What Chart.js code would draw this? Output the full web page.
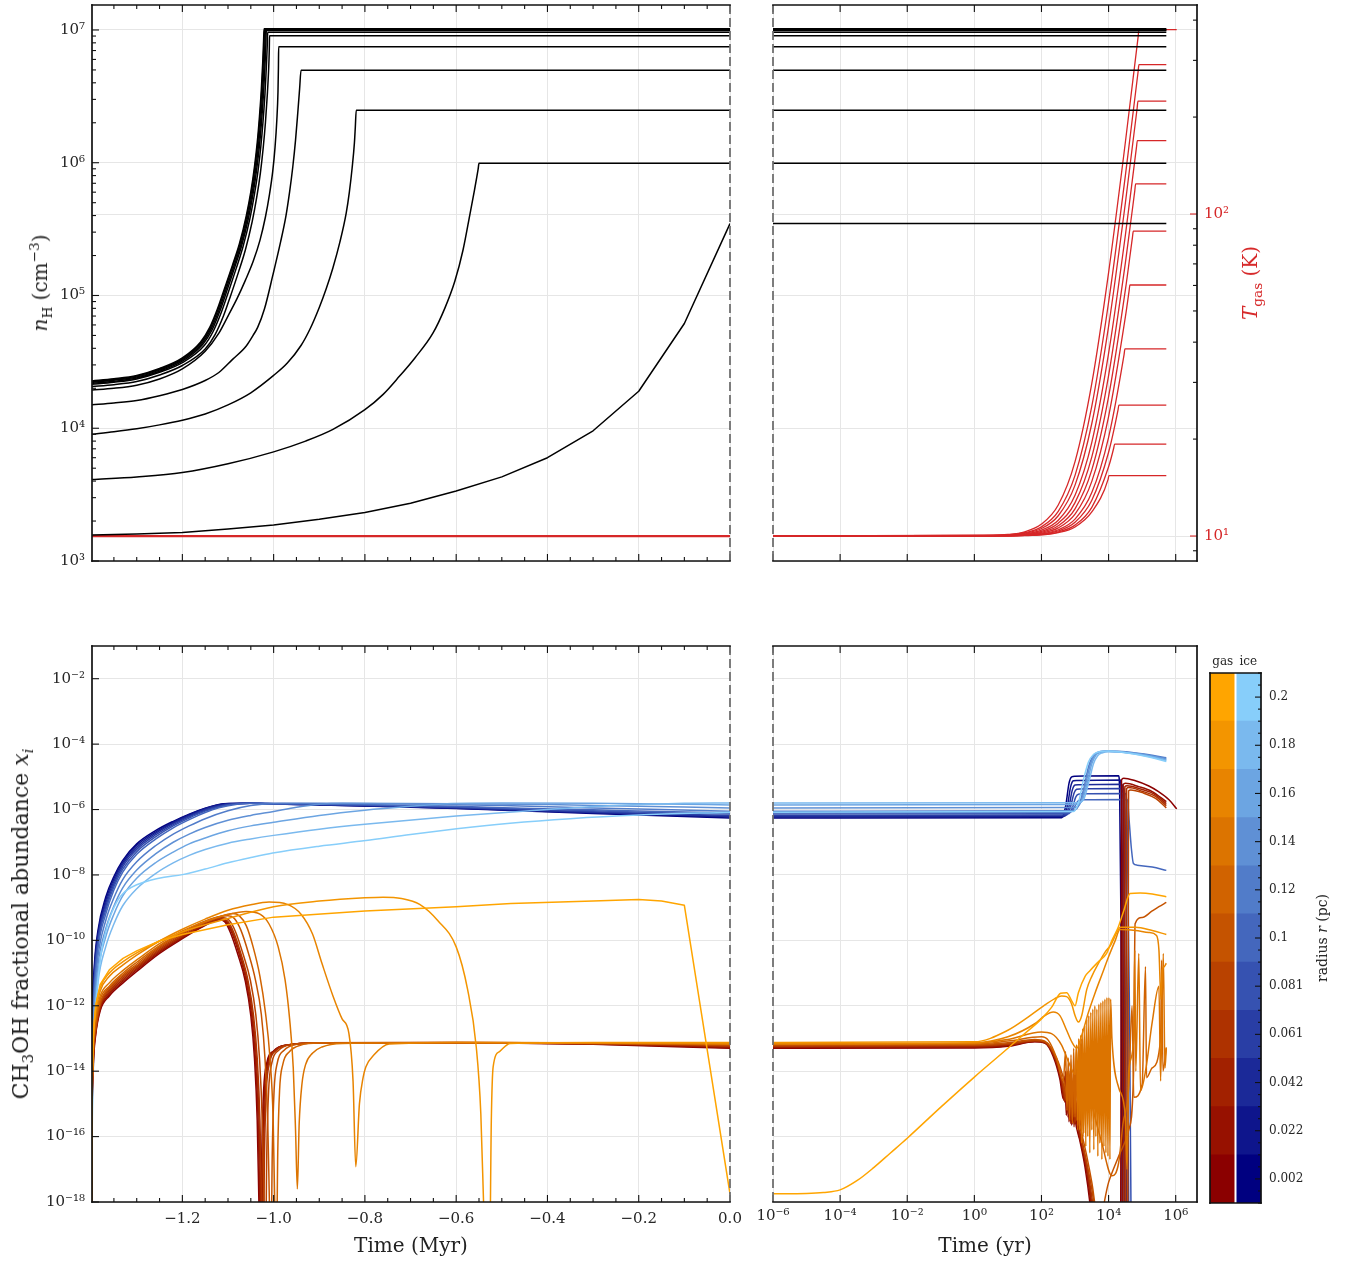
<!DOCTYPE html>
<html>
<head>
<meta charset="utf-8">
<script src="https://cdn.jsdelivr.net/npm/chart.js@4.4.1/dist/chart.umd.min.js"></script>
<style>
  body { margin: 0; background: #fff; }
  #fig { position: relative; width: 1347px; height: 1261px; font-family: "DejaVu Serif", serif; color: #222; overflow: hidden; }
  canvas { position: absolute; }
  .lbl { position: absolute; white-space: nowrap; font-size: 20px; line-height: 1; }
  .rot { transform: translate(-50%, -50%) rotate(-90deg); }
  .ctr { transform: translate(-50%, -50%); }
  .lbl sub, .lbl sup { font-size: 68%; line-height: 0; }
</style>
</head>
<body>
<div id="fig">
  <canvas id="tl" width="745" height="580" style="left:0;top:0"></canvas>
  <canvas id="tr" width="587" height="580" style="left:760px;top:0"></canvas>
  <canvas id="bl" width="745" height="661" style="left:0;top:600px"></canvas>
  <canvas id="br" width="465" height="661" style="left:735px;top:600px"></canvas>
  <canvas id="cb" width="152" height="621" style="left:1195px;top:640px"></canvas>

  <div class="lbl rot" style="left:40px;top:283px"><i>n</i><sub>H</sub> (cm<sup>−3</sup>)</div>
  <div class="lbl rot" style="left:1250px;top:283px;color:#d62728"><i>T</i><sub>gas</sub> (K)</div>
  <div class="lbl rot" style="left:21px;top:924px;font-size:22px">CH<sub>3</sub>OH fractional abundance <i>x<sub>i</sub></i></div>
  <div class="lbl ctr" style="left:411px;top:1245px">Time (Myr)</div>
  <div class="lbl ctr" style="left:985px;top:1245px">Time (yr)</div>
  <div class="lbl rot" style="left:1322px;top:938px;font-size:14px">radius <i>r</i> (pc)</div>
</div>

<script>
// ---------------------------------------------------------------
// Radial shells and their colours (gas = orange ramp, ice = blue ramp)
// ---------------------------------------------------------------
const radii = [0.002, 0.022, 0.042, 0.061, 0.081, 0.1, 0.12, 0.14, 0.16, 0.18, 0.2];
const gasColors = ['#8b0000','#971100','#a22100','#ae3200','#b94200','#c55300','#d16300','#dc7400','#e88400','#f39500','#ffa500'];
const iceColors = ['#000080','#0e158c','#1b2998','#293ea5','#3652b1','#4467bd','#517cc9','#5f90d5','#6ca5e2','#7ab9ee','#87cefa'];
const tempColor = '#d62728';

// Tick positions
const myrTicks = [-1.2, -1.0, -0.8, -0.6, -0.4, -0.2, 0.0];
const yrTicks = [1e-6, 1e-4, 1e-2, 1, 1e2, 1e4, 1e6];
const densityTicks = [1e3, 1e4, 1e5, 1e6, 1e7];
const tempTicks = [10, 100];
const abundanceTicks = [1e-18, 1e-16, 1e-14, 1e-12, 1e-10, 1e-8, 1e-6, 1e-4, 1e-2];

// ---------------------------------------------------------------
// Collapse phase: density n_H (cm^-3) vs time (Myr), one row per shell
// ---------------------------------------------------------------
const densityCollapse = [
  [[-1.4,2.27e4],[-1.35,2.36e4],[-1.3,2.5e4],[-1.25,2.82e4],[-1.2,3.39e4],[-1.16,4.47e4],[-1.14,5.75e4],[-1.123,7.94e4],[-1.108,1.12e5],[-1.09,1.7e5],[-1.075,2.45e5],[-1.06,3.98e5],[-1.05,6.03e5],[-1.042,9.33e5],[-1.036,1.41e6],[-1.031,2.24e6],[-1.027,3.55e6],[-1.024,5.62e6],[-1.022,8.3e6],[-1.021,1.02e7],[0,1.02e7]],
  [[-1.4,2.24e4],[-1.35,2.33e4],[-1.3,2.47e4],[-1.25,2.78e4],[-1.2,3.33e4],[-1.159,4.4e4],[-1.139,5.65e4],[-1.122,7.8e4],[-1.107,1.1e5],[-1.089,1.68e5],[-1.074,2.42e5],[-1.059,3.93e5],[-1.049,5.95e5],[-1.041,9.2e5],[-1.035,1.39e6],[-1.03,2.2e6],[-1.026,3.5e6],[-1.023,5.5e6],[-1.021,8.2e6],[-1.02,1.01e7],[0,1.01e7]],
  [[-1.4,2.21e4],[-1.35,2.3e4],[-1.3,2.43e4],[-1.25,2.74e4],[-1.2,3.27e4],[-1.157,4.35e4],[-1.137,5.6e4],[-1.12,7.7e4],[-1.105,1.09e5],[-1.087,1.66e5],[-1.072,2.4e5],[-1.057,3.9e5],[-1.047,5.9e5],[-1.039,9.1e5],[-1.033,1.37e6],[-1.028,2.17e6],[-1.024,3.45e6],[-1.021,5.4e6],[-1.019,8.0e6],[-1.018,1.0e7],[0,1.0e7]],
  [[-1.4,2.17e4],[-1.35,2.26e4],[-1.3,2.39e4],[-1.25,2.69e4],[-1.2,3.2e4],[-1.155,4.3e4],[-1.135,5.5e4],[-1.118,7.6e4],[-1.103,1.07e5],[-1.085,1.64e5],[-1.07,2.38e5],[-1.055,3.85e5],[-1.045,5.85e5],[-1.037,9.0e5],[-1.031,1.35e6],[-1.026,2.14e6],[-1.022,3.4e6],[-1.019,5.3e6],[-1.017,7.9e6],[-1.016,9.9e6],[0,9.9e6]],
  [[-1.4,2.14e4],[-1.35,2.22e4],[-1.3,2.35e4],[-1.25,2.64e4],[-1.2,3.12e4],[-1.152,4.2e4],[-1.132,5.4e4],[-1.115,7.4e4],[-1.1,1.04e5],[-1.082,1.6e5],[-1.067,2.34e5],[-1.052,3.8e5],[-1.042,5.8e5],[-1.034,8.8e5],[-1.028,1.33e6],[-1.023,2.1e6],[-1.019,3.3e6],[-1.016,5.2e6],[-1.014,7.6e6],[-1.013,9.6e6],[0,9.6e6]],
  [[-1.4,2.06e4],[-1.35,2.13e4],[-1.3,2.25e4],[-1.25,2.52e4],[-1.2,2.97e4],[-1.15,3.95e4],[-1.128,5.1e4],[-1.11,7.0e4],[-1.095,9.8e4],[-1.077,1.5e5],[-1.062,2.2e5],[-1.047,3.6e5],[-1.037,5.5e5],[-1.029,8.4e5],[-1.023,1.28e6],[-1.018,2.0e6],[-1.014,3.2e6],[-1.011,5.0e6],[-1.0095,7.2e6],[-1.009,9.06e6],[0,9.06e6]],
  [[-1.4,1.94e4],[-1.35,2.0e4],[-1.3,2.11e4],[-1.25,2.35e4],[-1.2,2.8e4],[-1.15,3.8e4],[-1.12,5.2e4],[-1.1,7.0e4],[-1.08,9.5e4],[-1.062,1.3e5],[-1.045,1.8e5],[-1.03,2.6e5],[-1.018,3.9e5],[-1.009,5.8e5],[-1.002,8.6e5],[-0.997,1.3e6],[-0.993,2.1e6],[-0.9905,3.4e6],[-0.9895,5.2e6],[-0.989,7.49e6],[0,7.49e6]],
  [[-1.4,1.5e4],[-1.35,1.55e4],[-1.3,1.62e4],[-1.25,1.76e4],[-1.2,1.96e4],[-1.15,2.29e4],[-1.12,2.63e4],[-1.09,3.3e4],[-1.06,4.17e4],[-1.045,5.01e4],[-1.035,5.75e4],[-1.02,7.94e4],[-1.002,1.41e5],[-0.985,2.51e5],[-0.973,3.98e5],[-0.965,6.03e5],[-0.958,9.33e5],[-0.952,1.48e6],[-0.947,2.4e6],[-0.943,3.63e6],[-0.94,4.98e6],[0,4.98e6]],
  [[-1.4,9.0e3],[-1.35,9.4e3],[-1.3,9.9e3],[-1.25,1.06e4],[-1.2,1.15e4],[-1.15,1.28e4],[-1.1,1.5e4],[-1.05,1.85e4],[-1.0,2.5e4],[-0.97,3.1e4],[-0.94,4.2e4],[-0.92,5.62e4],[-0.9,8.13e4],[-0.885,1.12e5],[-0.87,1.62e5],[-0.855,2.51e5],[-0.841,4.17e5],[-0.834,6.03e5],[-0.828,9.12e5],[-0.823,1.41e6],[-0.821,1.86e6],[-0.819,2.49e6],[0,2.49e6]],
  [[-1.4,4.1e3],[-1.3,4.3e3],[-1.2,4.64e3],[-1.1,5.4e3],[-1.0,6.64e3],[-0.93,8.0e3],[-0.87,9.8e3],[-0.8,1.38e4],[-0.76,1.8e4],[-0.724,2.47e4],[-0.69,3.4e4],[-0.651,5.2e4],[-0.625,8e4],[-0.603,1.28e5],[-0.585,2.2e5],[-0.57,4.07e5],[-0.56,6.2e5],[-0.552,8.9e5],[-0.55,9.89e5],[0,9.89e5]],
  [[-1.4,1.57e3],[-1.3,1.6e3],[-1.2,1.64e3],[-1.1,1.74e3],[-1.0,1.87e3],[-0.9,2.06e3],[-0.8,2.32e3],[-0.7,2.72e3],[-0.6,3.37e3],[-0.5,4.3e3],[-0.4,6.0e3],[-0.3,9.57e3],[-0.2,1.9e4],[-0.1,6.15e4],[0,3.48e5]]
];
const collapseTemp = 10;          // K, isothermal during collapse

// Warm-up phase: density held at its final value (cm^-3) until log10(t/yr) = warmupEnd
const densityWarmup = [1.02e7, 1.01e7, 1.0e7, 9.9e6, 9.6e6, 9.06e6, 7.49e6, 4.98e6, 2.49e6, 9.89e5, 3.48e5];
const warmupEnd = 5.72;

// Warm-up temperature: [log10 t/yr, T/K]
const tempWarmup = [
  [[-6,10],[0,10.01],[1,10.11],[1.5,10.31],[2,10.89],[2.5,12.49],[3,17.03],[3.5,29.8],[4,65.8],[4.5,167],[4.88,355],[4.904,374],[6.03,374]],
  [[-6,10],[0,10.01],[1,10.09],[1.5,10.24],[2,10.68],[2.5,11.93],[3,15.43],[3.5,25.3],[4,53.2],[4.5,131.6],[4.88,277],[4.904,291],[5.72,291]],
  [[-6,10],[1,10.07],[1.5,10.2],[2,10.55],[2.5,11.56],[3,14.39],[3.5,22.36],[4,44.8],[4.5,108.2],[4.85,213],[4.875,224],[5.72,224]],
  [[-6,10],[1,10.05],[1.5,10.15],[2,10.43],[2.5,11.2],[3,13.39],[3.5,19.55],[4,36.9],[4.5,85.9],[4.83,161],[4.857,169],[5.72,169]],
  [[-6,10],[1,10.04],[1.5,10.12],[2,10.34],[2.5,10.96],[3,12.7],[3.5,17.62],[4,31.5],[4.5,70.5],[4.78,118],[4.806,124],[5.72,124]],
  [[-6,10],[1,10.03],[1.5,10.1],[2,10.27],[2.5,10.76],[3,12.15],[3.5,16.05],[4,27.1],[4.5,58.1],[4.71,84.5],[4.737,88.5],[5.72,88.5]],
  [[-6,10],[1,10.03],[1.5,10.08],[2,10.21],[2.5,10.6],[3,11.69],[3.5,14.78],[4,23.5],[4.5,47.9],[4.61,57.6],[4.636,60.2],[5.72,60.2]],
  [[-6,10],[1,10.02],[1.5,10.06],[2,10.16],[2.5,10.46],[3,11.29],[3.5,13.64],[4,20.26],[4.46,36.5],[4.487,38.1],[5.72,38.1]],
  [[-6,10],[1,10.02],[1.5,10.05],[2,10.13],[2.5,10.37],[3,11.03],[3.5,12.91],[4,18.2],[4.28,24.6],[4.307,25.5],[5.72,25.5]],
  [[-6,10],[1,10.01],[1.5,10.04],[2,10.1],[2.5,10.29],[3,10.81],[3.5,12.28],[4,16.41],[4.155,18.8],[4.179,19.3],[5.72,19.3]],
  [[-6,10],[1,10.01],[1.5,10.03],[2,10.08],[2.5,10.24],[3,10.67],[3.5,11.88],[3.985,15.0],[4.009,15.4],[5.72,15.4]]
];

// ---------------------------------------------------------------
// CH3OH abundances, stored as log10(x).
// Collapse phase: [t/Myr, log10 x]
// ---------------------------------------------------------------
const gasCollapse = [
  [[-1.4,-20],[-1.398,-15.5],[-1.395,-13.8],[-1.39,-12.9],[-1.38,-12.15],[-1.36,-11.7],[-1.33,-11.3],[-1.3,-10.95],[-1.25,-10.4],[-1.2,-9.95],[-1.16,-9.62],[-1.135,-9.44],[-1.12,-9.37],[-1.108,-9.42],[-1.095,-9.75],[-1.078,-10.45],[-1.062,-11.25],[-1.05,-12.3],[-1.042,-13.6],[-1.036,-15.5],[-1.032,-18.2],[-1.029,-20],[-1.026,-16.5],[-1.022,-14.6],[-1.015,-13.75],[-1.0,-13.38],[-0.97,-13.2],[-0.9,-13.14],[-0.6,-13.13],[-0.3,-13.18],[0,-13.3]],
  [[-1.4,-20],[-1.398,-15.4],[-1.395,-13.7],[-1.39,-12.85],[-1.38,-12.1],[-1.36,-11.65],[-1.33,-11.25],[-1.3,-10.9],[-1.25,-10.36],[-1.2,-9.92],[-1.16,-9.6],[-1.133,-9.42],[-1.118,-9.36],[-1.105,-9.43],[-1.092,-9.75],[-1.075,-10.45],[-1.06,-11.25],[-1.048,-12.3],[-1.04,-13.6],[-1.034,-15.5],[-1.03,-18.2],[-1.027,-20],[-1.024,-16.5],[-1.02,-14.6],[-1.013,-13.75],[-0.998,-13.37],[-0.97,-13.2],[-0.9,-13.14],[-0.6,-13.13],[-0.3,-13.17],[0,-13.28]],
  [[-1.4,-20],[-1.398,-15.3],[-1.395,-13.6],[-1.39,-12.8],[-1.38,-12.05],[-1.36,-11.6],[-1.33,-11.2],[-1.3,-10.86],[-1.25,-10.32],[-1.2,-9.89],[-1.16,-9.58],[-1.131,-9.4],[-1.116,-9.35],[-1.103,-9.42],[-1.09,-9.75],[-1.073,-10.45],[-1.058,-11.25],[-1.046,-12.3],[-1.038,-13.6],[-1.032,-15.5],[-1.028,-18.2],[-1.025,-20],[-1.022,-16.5],[-1.018,-14.6],[-1.011,-13.75],[-0.996,-13.36],[-0.966,-13.19],[-0.9,-13.14],[-0.6,-13.13],[-0.3,-13.16],[0,-13.26]],
  [[-1.4,-20],[-1.398,-15.2],[-1.395,-13.5],[-1.39,-12.75],[-1.38,-12.0],[-1.36,-11.55],[-1.33,-11.15],[-1.3,-10.82],[-1.25,-10.28],[-1.2,-9.86],[-1.16,-9.55],[-1.129,-9.38],[-1.114,-9.34],[-1.101,-9.41],[-1.088,-9.74],[-1.071,-10.44],[-1.056,-11.24],[-1.044,-12.3],[-1.036,-13.6],[-1.03,-15.5],[-1.026,-18.2],[-1.023,-20],[-1.02,-16.5],[-1.016,-14.6],[-1.009,-13.75],[-0.994,-13.36],[-0.964,-13.19],[-0.9,-13.14],[-0.6,-13.13],[-0.3,-13.15],[0,-13.24]],
  [[-1.4,-20],[-1.398,-15.1],[-1.395,-13.4],[-1.39,-12.7],[-1.38,-11.95],[-1.36,-11.5],[-1.33,-11.1],[-1.3,-10.78],[-1.25,-10.24],[-1.2,-9.82],[-1.16,-9.51],[-1.128,-9.34],[-1.112,-9.3],[-1.098,-9.38],[-1.084,-9.72],[-1.067,-10.42],[-1.051,-11.22],[-1.039,-12.28],[-1.031,-13.6],[-1.025,-15.5],[-1.021,-18.2],[-1.018,-20],[-1.015,-16.5],[-1.011,-14.6],[-1.004,-13.75],[-0.989,-13.36],[-0.96,-13.18],[-0.9,-13.13],[-0.6,-13.12],[-0.3,-13.14],[0,-13.22]],
  [[-1.4,-20],[-1.398,-15.0],[-1.395,-13.35],[-1.39,-12.62],[-1.38,-11.9],[-1.36,-11.45],[-1.33,-11.05],[-1.3,-10.73],[-1.25,-10.2],[-1.2,-9.78],[-1.16,-9.47],[-1.125,-9.29],[-1.1,-9.25],[-1.086,-9.33],[-1.072,-9.68],[-1.055,-10.4],[-1.04,-11.2],[-1.027,-12.26],[-1.019,-13.6],[-1.013,-15.5],[-1.009,-18.2],[-1.006,-20],[-1.003,-16.5],[-0.999,-14.6],[-0.992,-13.75],[-0.977,-13.36],[-0.95,-13.18],[-0.9,-13.13],[-0.6,-13.12],[-0.3,-13.14],[0,-13.2]],
  [[-1.4,-20],[-1.398,-15.2],[-1.395,-13.3],[-1.39,-12.5],[-1.38,-11.8],[-1.36,-11.4],[-1.33,-11.0],[-1.3,-10.67],[-1.25,-10.16],[-1.2,-9.76],[-1.15,-9.44],[-1.11,-9.24],[-1.09,-9.18],[-1.075,-9.25],[-1.06,-9.55],[-1.045,-10.2],[-1.03,-11.1],[-1.018,-12.2],[-1.008,-13.6],[-1.001,-15.5],[-0.997,-18.5],[-0.994,-20],[-0.991,-16.5],[-0.987,-14.6],[-0.98,-13.8],[-0.965,-13.4],[-0.94,-13.2],[-0.9,-13.14],[-0.6,-13.13],[-0.3,-13.15],[0,-13.18]],
  [[-1.4,-20],[-1.398,-15.0],[-1.395,-13.1],[-1.39,-12.35],[-1.38,-11.7],[-1.36,-11.3],[-1.33,-10.92],[-1.3,-10.6],[-1.25,-10.1],[-1.2,-9.71],[-1.15,-9.42],[-1.1,-9.21],[-1.06,-9.12],[-1.03,-9.2],[-1.01,-9.5],[-0.99,-10.2],[-0.975,-11.2],[-0.965,-12.4],[-0.957,-13.9],[-0.952,-15.8],[-0.948,-17.6],[-0.944,-15.6],[-0.938,-14.4],[-0.93,-13.8],[-0.915,-13.45],[-0.894,-13.26],[-0.85,-13.15],[-0.6,-13.12],[-0.3,-13.14],[0,-13.16]],
  [[-1.4,-20],[-1.398,-14.8],[-1.395,-13.0],[-1.39,-12.2],[-1.38,-11.55],[-1.36,-11.1],[-1.33,-10.75],[-1.3,-10.45],[-1.25,-10.02],[-1.2,-9.66],[-1.15,-9.35],[-1.1,-9.08],[-1.05,-8.91],[-1.01,-8.83],[-0.97,-8.9],[-0.94,-9.2],[-0.915,-9.8],[-0.894,-10.71],[-0.87,-11.7],[-0.85,-12.4],[-0.835,-12.85],[-0.826,-14.3],[-0.82,-16.92],[-0.812,-15.0],[-0.804,-14.2],[-0.798,-13.87],[-0.78,-13.5],[-0.747,-13.17],[-0.6,-13.12],[-0.3,-13.13],[0,-13.16]],
  [[-1.4,-20],[-1.398,-14.6],[-1.395,-12.95],[-1.39,-12.1],[-1.38,-11.45],[-1.36,-11.0],[-1.33,-10.65],[-1.3,-10.38],[-1.25,-10.02],[-1.2,-9.74],[-1.1,-9.33],[-1.0,-8.97],[-0.9,-8.8],[-0.8,-8.7],[-0.76,-8.68],[-0.72,-8.72],[-0.68,-8.9],[-0.64,-9.4],[-0.6,-10.2],[-0.575,-11.5],[-0.556,-13.26],[-0.546,-15.3],[-0.539,-18.5],[-0.535,-20],[-0.527,-20],[-0.523,-15.5],[-0.519,-13.87],[-0.505,-13.4],[-0.482,-13.15],[-0.3,-13.12],[0,-13.12]],
  [[-1.4,-20],[-1.398,-14.5],[-1.395,-12.9],[-1.39,-12.0],[-1.38,-11.35],[-1.36,-10.9],[-1.33,-10.55],[-1.3,-10.32],[-1.25,-10.02],[-1.2,-9.82],[-1.1,-9.52],[-1.0,-9.29],[-0.8,-9.1],[-0.6,-8.97],[-0.48,-8.87],[-0.3,-8.8],[-0.2,-8.75],[-0.15,-8.8],[-0.1,-8.93],[0,-17.75]]
];
const iceCollapse = [
  [[-1.4,-20],[-1.399,-15],[-1.397,-12.2],[-1.393,-10.8],[-1.385,-9.7],[-1.368,-8.68],[-1.35,-8.05],[-1.331,-7.56],[-1.3,-7.05],[-1.258,-6.64],[-1.22,-6.36],[-1.185,-6.14],[-1.15,-5.96],[-1.125,-5.86],[-1.11,-5.82],[-1.05,-5.81],[-1.0,-5.83],[-0.8,-5.89],[-0.6,-5.97],[-0.48,-6.03],[-0.3,-6.12],[-0.15,-6.19],[0,-6.26]],
  [[-1.4,-20],[-1.399,-15.2],[-1.397,-12.4],[-1.393,-10.95],[-1.385,-9.8],[-1.368,-8.78],[-1.35,-8.12],[-1.331,-7.62],[-1.3,-7.1],[-1.258,-6.68],[-1.22,-6.39],[-1.185,-6.16],[-1.15,-5.97],[-1.125,-5.87],[-1.105,-5.82],[-1.05,-5.81],[-1.0,-5.83],[-0.8,-5.89],[-0.6,-5.96],[-0.48,-6.02],[-0.3,-6.1],[-0.15,-6.17],[0,-6.23]],
  [[-1.4,-20],[-1.399,-15.4],[-1.397,-12.6],[-1.393,-11.1],[-1.385,-9.9],[-1.368,-8.88],[-1.35,-8.2],[-1.331,-7.68],[-1.3,-7.16],[-1.258,-6.72],[-1.22,-6.42],[-1.185,-6.19],[-1.15,-5.99],[-1.12,-5.88],[-1.1,-5.83],[-1.05,-5.81],[-1.0,-5.83],[-0.8,-5.88],[-0.6,-5.95],[-0.48,-6.01],[-0.3,-6.09],[-0.15,-6.15],[0,-6.21]],
  [[-1.4,-20],[-1.399,-15.6],[-1.397,-12.8],[-1.393,-11.25],[-1.385,-10.0],[-1.368,-8.98],[-1.35,-8.28],[-1.331,-7.75],[-1.3,-7.22],[-1.258,-6.77],[-1.22,-6.46],[-1.185,-6.22],[-1.15,-6.02],[-1.12,-5.9],[-1.095,-5.84],[-1.05,-5.81],[-1.0,-5.82],[-0.8,-5.87],[-0.6,-5.94],[-0.48,-5.99],[-0.3,-6.07],[-0.15,-6.13],[0,-6.18]],
  [[-1.4,-20],[-1.399,-15.8],[-1.397,-13.0],[-1.393,-11.4],[-1.385,-10.1],[-1.368,-9.08],[-1.35,-8.36],[-1.331,-7.83],[-1.3,-7.29],[-1.258,-6.83],[-1.22,-6.5],[-1.185,-6.26],[-1.15,-6.05],[-1.12,-5.92],[-1.09,-5.84],[-1.05,-5.81],[-1.0,-5.82],[-0.8,-5.86],[-0.6,-5.92],[-0.48,-5.97],[-0.3,-6.04],[-0.15,-6.1],[0,-6.14]],
  [[-1.4,-20],[-1.399,-16],[-1.397,-13.2],[-1.393,-11.55],[-1.385,-10.25],[-1.368,-9.2],[-1.35,-8.46],[-1.331,-7.92],[-1.3,-7.37],[-1.258,-6.9],[-1.22,-6.56],[-1.185,-6.31],[-1.15,-6.09],[-1.12,-5.95],[-1.08,-5.84],[-1.04,-5.81],[-1.0,-5.81],[-0.8,-5.85],[-0.6,-5.9],[-0.48,-5.95],[-0.3,-6.01],[-0.15,-6.06],[0,-6.1]],
  [[-1.4,-20],[-1.399,-16.3],[-1.397,-13.5],[-1.393,-11.8],[-1.385,-10.5],[-1.368,-9.4],[-1.35,-8.7],[-1.331,-8.15],[-1.3,-7.6],[-1.258,-7.1],[-1.22,-6.75],[-1.185,-6.5],[-1.15,-6.28],[-1.1,-6.04],[-1.05,-5.88],[-1.0,-5.82],[-0.9,-5.81],[-0.7,-5.83],[-0.5,-5.88],[-0.3,-5.95],[-0.15,-6.0],[0,-6.05]],
  [[-1.4,-20],[-1.399,-16.6],[-1.397,-13.8],[-1.393,-12.1],[-1.385,-10.75],[-1.368,-9.65],[-1.35,-8.95],[-1.331,-8.4],[-1.3,-7.85],[-1.258,-7.35],[-1.22,-7.0],[-1.185,-6.75],[-1.15,-6.55],[-1.1,-6.33],[-1.05,-6.18],[-1.0,-6.06],[-0.95,-5.93],[-0.9,-5.84],[-0.85,-5.81],[-0.6,-5.82],[-0.4,-5.85],[-0.2,-5.9],[0,-5.95]],
  [[-1.4,-20],[-1.399,-16.9],[-1.397,-14.1],[-1.393,-12.4],[-1.385,-11.0],[-1.368,-9.9],[-1.35,-9.2],[-1.331,-8.65],[-1.3,-8.1],[-1.258,-7.62],[-1.22,-7.3],[-1.185,-7.05],[-1.15,-6.87],[-1.1,-6.65],[-1.05,-6.5],[-1.0,-6.39],[-0.9,-6.18],[-0.8,-6.02],[-0.7,-5.9],[-0.62,-5.82],[-0.5,-5.8],[-0.3,-5.81],[-0.15,-5.83],[0,-5.86]],
  [[-1.4,-20],[-1.399,-17.2],[-1.397,-14.4],[-1.393,-12.7],[-1.385,-11.3],[-1.368,-10.2],[-1.35,-9.5],[-1.331,-8.95],[-1.3,-8.42],[-1.258,-7.95],[-1.22,-7.63],[-1.185,-7.4],[-1.15,-7.22],[-1.1,-7.03],[-1.05,-6.9],[-1.0,-6.79],[-0.9,-6.6],[-0.8,-6.45],[-0.6,-6.2],[-0.4,-6.0],[-0.25,-5.88],[-0.1,-5.81],[0,-5.8]],
  [[-1.4,-20],[-1.399,-17.5],[-1.397,-15.2],[-1.394,-13.3],[-1.388,-11.7],[-1.378,-10.4],[-1.368,-9.75],[-1.36,-9.35],[-1.35,-9.0],[-1.34,-8.74],[-1.331,-8.58],[-1.32,-8.45],[-1.3,-8.3],[-1.27,-8.16],[-1.24,-8.07],[-1.2,-7.99],[-1.15,-7.82],[-1.1,-7.63],[-1.05,-7.47],[-1.002,-7.33],[-0.9,-7.12],[-0.798,-6.95],[-0.7,-6.76],[-0.599,-6.59],[-0.482,-6.42],[-0.35,-6.28],[-0.2,-6.17],[0,-6.08]]
];

// Warm-up phase: [log10 t/yr, log10 x]
const gasWarmup = [
  [[-6,-13.3],[0,-13.29],[1,-13.24],[1.8,-13.1],[2.1,-13.14],[2.35,-13.55],[2.55,-14.25],[2.65,-14.85],[2.7,-14.15],[2.74,-15.35],[2.78,-14.35],[2.82,-15.55],[2.86,-14.45],[2.9,-15.65],[2.95,-14.85],[3.0,-15.45],[3.15,-16.15],[3.3,-16.95],[3.46,-18.2],[3.56,-19.5],[4.36,-19.5],[4.385,-5.1],[4.45,-5.04],[4.8,-5.12],[5.2,-5.28],[5.5,-5.46],[5.8,-5.7],[6.03,-5.98]],
  [[-6,-13.28],[0,-13.27],[1,-13.22],[1.8,-13.09],[2.1,-13.13],[2.38,-13.55],[2.58,-14.3],[2.68,-14.9],[2.72,-14.0],[2.76,-15.3],[2.8,-14.2],[2.84,-15.5],[2.88,-14.4],[2.93,-15.6],[2.98,-14.9],[3.05,-15.6],[3.2,-16.3],[3.35,-17.1],[3.5,-18.3],[3.6,-19.5],[4.41,-19.5],[4.435,-5.24],[4.5,-5.2],[4.9,-5.3],[5.3,-5.45],[5.72,-5.76]],
  [[-6,-13.26],[0,-13.25],[1,-13.2],[1.8,-13.08],[2.1,-13.12],[2.4,-13.6],[2.6,-14.3],[2.7,-14.95],[2.75,-14.1],[2.79,-15.4],[2.83,-14.3],[2.87,-15.6],[2.92,-14.5],[2.97,-15.7],[3.02,-15.0],[3.1,-15.7],[3.25,-16.4],[3.4,-17.3],[3.55,-18.5],[3.65,-19.5],[4.46,-19.5],[4.485,-5.3],[4.55,-5.27],[4.95,-5.37],[5.35,-5.52],[5.72,-5.82]],
  [[-6,-13.24],[0,-13.23],[1,-13.18],[1.8,-13.07],[2.1,-13.11],[2.42,-13.62],[2.62,-14.35],[2.72,-14.9],[2.77,-14.0],[2.81,-15.3],[2.86,-14.2],[2.9,-15.5],[2.95,-14.4],[3.0,-15.6],[3.06,-14.9],[3.15,-15.9],[3.3,-16.6],[3.45,-17.5],[3.6,-18.6],[3.7,-19.5],[4.51,-19.5],[4.535,-5.36],[4.6,-5.33],[5.0,-5.44],[5.4,-5.6],[5.72,-5.88]],
  [[-6,-13.22],[0,-13.21],[1,-13.16],[1.8,-13.06],[2.1,-13.1],[2.45,-13.65],[2.65,-14.4],[2.75,-14.9],[2.8,-14.1],[2.84,-15.2],[2.89,-14.2],[2.94,-15.4],[2.99,-14.3],[3.04,-15.5],[3.1,-14.8],[3.2,-16.0],[3.35,-16.8],[3.5,-17.6],[3.65,-18.7],[3.75,-19.5],[4.57,-19.5],[4.595,-5.43],[4.66,-5.4],[5.05,-5.5],[5.4,-5.66],[5.72,-5.95]],
  [[-6,-13.2],[0,-13.19],[1,-13.13],[1.8,-13.03],[2.1,-13.08],[2.45,-13.6],[2.65,-14.2],[2.8,-14.9],[2.85,-14.0],[2.9,-15.1],[2.95,-14.2],[3.0,-15.3],[3.05,-14.3],[3.1,-15.4],[3.2,-15.9],[3.35,-16.6],[3.5,-17.4],[3.7,-18.6],[4.0,-17.4],[4.3,-16.6],[4.6,-15.8],[4.74,-14.2],[4.79,-9.49],[5.0,-9.3],[5.3,-9.1],[5.5,-8.97],[5.72,-8.84]],
  [[-6,-13.18],[0,-13.17],[1,-13.08],[2,-12.95],[2.2,-13.05],[2.45,-13.6],[2.65,-14.3],[2.72,-13.4],[2.76,-15.2],[2.8,-13.6],[2.84,-15.5],[2.88,-13.5],[2.92,-15.6],[2.96,-13.3],[3.0,-15.4],[3.04,-13.2],[3.08,-15.8],[3.12,-13.1],[3.16,-15.5],[3.2,-13.0],[3.24,-16.0],[3.3,-14.0],[3.5,-15.0],[3.8,-16.2],[4.1,-17.2],[4.3,-16.8],[4.43,-15.6],[4.6,-14.5],[4.7,-12.0],[4.75,-14.8],[5.0,-14.4],[5.1,-10.8],[5.13,-14.2],[5.3,-13.9],[5.55,-13.0],[5.58,-10.6],[5.62,-14.0],[5.72,-13.27]],
  [[-6,-13.16],[0,-13.15],[1,-13.03],[2,-12.8],[2.3,-12.85],[2.6,-13.2],[2.8,-13.7],[3.0,-14.1],[3.05,-13.2],[3.08,-15.5],[3.11,-13.0],[3.14,-15.8],[3.17,-12.9],[3.2,-16.2],[3.23,-12.7],[3.26,-15.9],[3.29,-12.6],[3.32,-16.3],[3.35,-12.4],[3.38,-16.0],[3.41,-12.3],[3.44,-16.5],[3.47,-12.2],[3.5,-15.8],[3.53,-12.1],[3.56,-16.4],[3.59,-12.0],[3.62,-16.0],[3.65,-12.1],[3.68,-16.6],[3.71,-11.95],[3.74,-16.2],[3.77,-11.9],[3.8,-16.7],[3.83,-11.85],[3.86,-16.3],[3.89,-11.8],[3.92,-16.5],[3.95,-11.75],[3.98,-16.6],[4.01,-11.75],[4.04,-16.7],[4.06,-11.8],[4.1,-13.0],[4.3,-14.5],[4.5,-15.4],[4.55,-17.0],[4.6,-14.0],[4.75,-13.0],[4.78,-10.3],[4.81,-14.0],[4.9,-10.4],[4.95,-14.6],[5.1,-14.0],[5.3,-12.5],[5.5,-11.4],[5.55,-14.3],[5.63,-10.4],[5.68,-13.9],[5.72,-13.3]],
  [[-6,-13.16],[0,-13.13],[1,-12.95],[1.8,-12.55],[2.1,-12.3],[2.35,-12.19],[2.55,-12.3],[2.75,-12.75],[2.9,-13.1],[3.05,-13.3],[3.2,-12.9],[3.4,-12.2],[3.6,-11.6],[3.8,-11.05],[4.0,-10.5],[4.2,-10.0],[4.34,-9.67],[4.8,-9.7],[5.2,-9.76],[5.43,-9.85],[5.5,-10.3],[5.56,-11.8],[5.6,-10.9],[5.66,-10.8],[5.72,-10.7]],
  [[-6,-13.12],[0,-13.1],[1,-12.75],[1.6,-12.35],[2,-12.05],[2.4,-11.78],[2.6,-11.7],[2.75,-11.72],[2.9,-11.95],[3.0,-12.3],[3.1,-12.5],[3.2,-12.3],[3.35,-11.5],[3.5,-11.1],[3.7,-10.7],[3.9,-10.35],[4.06,-10.15],[4.25,-9.75],[4.35,-9.6],[4.8,-9.6],[5.3,-9.7],[5.72,-9.82]],
  [[-6,-17.75],[-5,-17.74],[-4.5,-17.71],[-4,-17.63],[-3.5,-17.35],[-3,-16.95],[-2.5,-16.5],[-2,-16.05],[-1,-15.1],[0,-14.18],[1,-13.3],[1.5,-12.85],[2,-12.4],[2.3,-12.05],[2.57,-11.62],[2.75,-11.6],[2.9,-11.85],[3.0,-12.0],[3.1,-11.6],[3.3,-11.1],[3.45,-10.92],[3.7,-10.65],[3.94,-10.4],[4.1,-10.0],[4.29,-9.59],[4.45,-9.1],[4.64,-8.57],[4.94,-8.55],[5.3,-8.58],[5.72,-8.67]]
];
const iceWarmup = [
  [[-6,-6.26],[2.6,-6.25],[2.72,-5.9],[2.82,-5.2],[2.9,-5.0],[3.0,-4.98],[4.3,-4.97],[4.33,-5.5],[4.37,-9.5],[4.41,-20]],
  [[-6,-6.23],[2.65,-6.22],[2.77,-5.9],[2.87,-5.3],[2.95,-5.12],[3.05,-5.11],[4.35,-5.1],[4.38,-5.7],[4.43,-10],[4.47,-20]],
  [[-6,-6.21],[2.7,-6.2],[2.82,-5.9],[2.92,-5.4],[3.0,-5.25],[3.1,-5.24],[4.4,-5.23],[4.43,-5.8],[4.49,-11],[4.54,-20]],
  [[-6,-6.18],[2.75,-6.17],[2.87,-5.9],[2.97,-5.5],[3.05,-5.38],[3.15,-5.37],[4.45,-5.36],[4.49,-6.0],[4.56,-12],[4.61,-20]],
  [[-6,-6.14],[2.8,-6.13],[2.92,-5.95],[3.02,-5.62],[3.1,-5.53],[3.2,-5.52],[4.5,-5.51],[4.55,-6.1],[4.62,-12],[4.68,-20]],
  [[-6,-6.1],[2.85,-6.09],[2.97,-5.95],[3.07,-5.76],[3.15,-5.71],[3.25,-5.7],[4.56,-5.69],[4.61,-6.3],[4.68,-7.2],[4.74,-7.65],[4.85,-7.7],[5.3,-7.76],[5.72,-7.86]],
  [[-6,-6.05],[2.9,-6.04],[3.1,-5.9],[3.25,-5.4],[3.4,-4.7],[3.52,-4.38],[3.65,-4.26],[3.9,-4.21],[4.3,-4.22],[4.8,-4.27],[5.3,-4.34],[5.72,-4.42]],
  [[-6,-5.95],[2.95,-5.94],[3.15,-5.82],[3.3,-5.3],[3.45,-4.65],[3.57,-4.36],[3.7,-4.26],[3.95,-4.22],[4.3,-4.23],[4.8,-4.28],[5.3,-4.36],[5.72,-4.45]],
  [[-6,-5.86],[3.0,-5.85],[3.2,-5.75],[3.35,-5.25],[3.5,-4.6],[3.62,-4.34],[3.75,-4.26],[4.0,-4.22],[4.3,-4.23],[4.8,-4.29],[5.3,-4.38],[5.72,-4.48]],
  [[-6,-5.8],[3.05,-5.79],[3.25,-5.7],[3.4,-5.2],[3.55,-4.6],[3.68,-4.35],[3.8,-4.27],[4.0,-4.23],[4.3,-4.24],[4.8,-4.3],[5.3,-4.4],[5.72,-4.5]],
  [[-6,-6.08],[2.95,-6.06],[3.1,-5.8],[3.25,-5.1],[3.4,-4.55],[3.55,-4.32],[3.7,-4.24],[4.0,-4.21],[4.3,-4.23],[4.8,-4.31],[5.3,-4.42],[5.72,-4.53]]
];

// ---------------------------------------------------------------
// Helpers
// ---------------------------------------------------------------
Chart.defaults.font.family = '"DejaVu Serif", serif';
Chart.defaults.font.size = 15;
Chart.defaults.color = '#262626';

const GRID = '#e6e6e6';
const SUP = '⁻⁰¹²³⁴⁵⁶⁷⁸⁹', SRC = '-0123456789';
const sup = s => String(s).replace(/[-0-9]/g, c => SUP[SRC.indexOf(c)]);
const decadeLabel = v => '10' + sup(Math.round(Math.log10(v)));
const myrLabel = v => (v < -1e-9 ? '−' : '') + Math.abs(v).toFixed(1);
const setTicks = list => s => { s.ticks = list.map(v => ({ value: v })); };
// fix an axis box to an exact size and drop the label overhang padding
const noPad = s => { s.paddingTop = 0; s.paddingBottom = 0; s.paddingLeft = 0; s.paddingRight = 0; };
const fixW = w => s => { s.width = w; noPad(s); };
const fixH = h => s => { s.height = h; noPad(s); };

const fromLogY = pts => pts.map(([x, e]) => ({ x, y: Math.pow(10, e) }));
const fromLogX = pts => pts.map(([l, y]) => ({ x: Math.pow(10, l), y }));
const fromLogXY = pts => pts.map(([l, e]) => ({ x: Math.pow(10, l), y: Math.pow(10, e) }));
const plain = pts => pts.map(([x, y]) => ({ x, y }));

function line(data, color, yAxisID, extra) {
  return Object.assign({
    data, borderColor: color, borderWidth: 1.5, pointRadius: 0, fill: false,
    cubicInterpolationMode: 'monotone', yAxisID, borderJoinStyle: 'round'
  }, extra || {});
}

// minor tick positions
const myrMinor = [];
for (let k = 0; k <= 28; k++) {
  const v = -1.4 + 0.05 * k;
  if (Math.abs(v / 0.2 - Math.round(v / 0.2)) > 1e-6) myrMinor.push(v);
}
const densityMinor = [];
for (let d = 3; d <= 7; d++) for (let m = 2; m <= 9; m++) densityMinor.push(m * Math.pow(10, d));
const tempMinor = [9, 20, 30, 40, 50, 60, 70, 80, 90, 200, 300, 400];

// Frame: inward tick marks, spines (dashed where the two time axes meet), colour-bar divider
const framePlugin = {
  id: 'frame',
  afterDraw(chart, args, o) {
    const { ctx, chartArea: a } = chart;
    ctx.save();
    if (o.divider) {
      const xs = chart.scales.x;
      const xm = (xs.getPixelForTick(0) + xs.getPixelForTick(1)) / 2;
      ctx.strokeStyle = '#fff'; ctx.lineWidth = 2;
      ctx.beginPath(); ctx.moveTo(xm, a.top); ctx.lineTo(xm, a.bottom); ctx.stroke();
    }
    for (const t of (o.ticks || [])) {
      const sc = chart.scales[t.scale];
      const horiz = sc.isHorizontal();
      ctx.strokeStyle = t.color || '#111';
      ctx.lineWidth = 1.1;
      for (const v of t.values) {
        const p = sc.getPixelForValue(v);
        if (horiz ? (p < a.left - 0.5 || p > a.right + 0.5) : (p < a.top - 0.5 || p > a.bottom + 0.5)) continue;
        ctx.beginPath();
        for (const s of t.sides) {
          if (s === 'bottom') { ctx.moveTo(p, a.bottom); ctx.lineTo(p, a.bottom - t.len); }
          if (s === 'top') { ctx.moveTo(p, a.top); ctx.lineTo(p, a.top + t.len); }
          if (s === 'left') { ctx.moveTo(a.left, p); ctx.lineTo(a.left + t.len, p); }
          if (s === 'right') { ctx.moveTo(a.right, p); ctx.lineTo(a.right - t.len, p); }
        }
        ctx.stroke();
      }
    }
    const seg = {
      top: [a.left, a.top, a.right, a.top], bottom: [a.left, a.bottom, a.right, a.bottom],
      left: [a.left, a.top, a.left, a.bottom], right: [a.right, a.top, a.right, a.bottom]
    };
    for (const s of ['left', 'right', 'top', 'bottom']) {
      const dashed = (o.dashed || []).includes(s);
      ctx.setLineDash(dashed ? [9, 4] : []);
      ctx.strokeStyle = dashed ? '#707070' : '#111';
      ctx.lineWidth = dashed ? 1.8 : 1.7;
      ctx.lineCap = dashed ? 'butt' : 'square';
      const [x1, y1, x2, y2] = seg[s];
      ctx.beginPath(); ctx.moveTo(x1, y1); ctx.lineTo(x2, y2); ctx.stroke();
    }
    ctx.restore();
  }
};

const base = () => ({
  responsive: false, animation: false, devicePixelRatio: 1, events: [],
  plugins: { legend: { display: false }, tooltip: { enabled: false } }
});
const hiddenAxis = { display: false };

// ---------------------------------------------------------------
// Top-left: density during collapse
// ---------------------------------------------------------------
(() => {
  const ds = [];
  densityCollapse.forEach((p, i) => ds.push(line(plain(p), '#000', 'y',
    i === 10 ? { cubicInterpolationMode: 'default', tension: 0 } : {})));
  ds.push(line(plain([[-1.4, collapseTemp], [0, collapseTemp]]), tempColor, 'yT', { borderWidth: 2.2 }));
  const o = base();
  o.layout = { padding: { top: 5, right: 15, left: 0, bottom: 0 } };
  o.scales = {
    x: { type: 'linear', min: -1.398, max: 0, afterFit: fixH(19), afterBuildTicks: setTicks(myrTicks),
         ticks: { display: false }, grid: { color: GRID, drawTicks: false }, border: hiddenAxis },
    y: { type: 'logarithmic', position: 'left', min: 1e3, max: 1.542e7, afterFit: fixW(92),
         afterBuildTicks: setTicks(densityTicks), ticks: { callback: v => decadeLabel(v), padding: 7, autoSkip: false },
         grid: { color: GRID, drawTicks: false }, border: hiddenAxis },
    yT: { type: 'logarithmic', position: 'right', min: 8.365, max: 445.7, afterFit: fixW(0),
          afterBuildTicks: setTicks(tempTicks), ticks: { display: false }, grid: { color: GRID, drawTicks: false }, border: hiddenAxis }
  };
  o.plugins.frame = {
    dashed: ['right'],
    ticks: [
      { scale: 'x', values: myrTicks, len: 7, sides: ['bottom', 'top'] },
      { scale: 'x', values: myrMinor, len: 4, sides: ['bottom', 'top'] },
      { scale: 'y', values: densityTicks, len: 7, sides: ['left'] },
      { scale: 'y', values: densityMinor, len: 4, sides: ['left'] }
    ]
  };
  new Chart(document.getElementById('tl'), { type: 'line', data: { datasets: ds }, options: o, plugins: [framePlugin] });
})();

// ---------------------------------------------------------------
// Top-right: density and temperature during warm-up
// ---------------------------------------------------------------
(() => {
  const ds = [];
  densityWarmup.forEach(n => ds.push(line(fromLogX([[-6, n], [warmupEnd, n]]), '#000', 'y', { cubicInterpolationMode: 'default', tension: 0 })));
  tempWarmup.forEach(p => ds.push(line(fromLogX(p), tempColor, 'yT', { borderWidth: 1.3 })));
  const o = base();
  o.layout = { padding: { top: 5, right: 0, left: 0, bottom: 0 } };
  o.scales = {
    x: { type: 'logarithmic', min: 1e-6, max: 4.31e6, afterFit: fixH(19), afterBuildTicks: setTicks(yrTicks),
         ticks: { display: false }, grid: { color: GRID, drawTicks: false }, border: hiddenAxis },
    y: { type: 'logarithmic', position: 'left', min: 1e3, max: 1.542e7, afterFit: fixW(13),
         afterBuildTicks: setTicks(densityTicks), ticks: { display: false }, grid: { color: GRID, drawTicks: false }, border: hiddenAxis },
    yT: { type: 'logarithmic', position: 'right', min: 8.365, max: 445.7, afterFit: fixW(150),
          afterBuildTicks: setTicks(tempTicks), ticks: { callback: v => decadeLabel(v), color: tempColor, padding: 7, autoSkip: false },
          grid: { color: GRID, drawTicks: false }, border: hiddenAxis }
  };
  o.plugins.frame = {
    dashed: ['left'],
    ticks: [
      { scale: 'x', values: yrTicks, len: 7, sides: ['bottom', 'top'] },
      { scale: 'yT', values: tempTicks, len: 7, sides: ['right'], color: tempColor },
      { scale: 'yT', values: tempMinor, len: 4, sides: ['right'] }
    ]
  };
  new Chart(document.getElementById('tr'), { type: 'line', data: { datasets: ds }, options: o, plugins: [framePlugin] });
})();

// ---------------------------------------------------------------
// Bottom-left: CH3OH during collapse
// ---------------------------------------------------------------
(() => {
  const ds = [];
  for (let i = radii.length - 1; i >= 0; i--) ds.push(line(fromLogY(gasCollapse[i]), gasColors[i], 'y',
    i === 10 ? { cubicInterpolationMode: 'default', tension: 0 } : {}));
  for (let i = radii.length - 1; i >= 0; i--) ds.push(line(fromLogY(iceCollapse[i]), iceColors[i], 'y'));
  const o = base();
  o.layout = { padding: { top: 46, right: 15, left: 0, bottom: 0 } };
  o.scales = {
    x: { type: 'linear', min: -1.398, max: 0, afterFit: fixH(59), afterBuildTicks: setTicks(myrTicks),
         ticks: { callback: v => myrLabel(v), padding: 8, maxRotation: 0, autoSkip: false },
         grid: { color: GRID, drawTicks: false }, border: hiddenAxis },
    y: { type: 'logarithmic', position: 'left', min: 1e-18, max: 1e-1, afterFit: fixW(92),
         afterBuildTicks: setTicks(abundanceTicks), ticks: { callback: v => decadeLabel(v), padding: 7, autoSkip: false },
         grid: { color: GRID, drawTicks: false }, border: hiddenAxis }
  };
  o.plugins.frame = {
    dashed: ['right'],
    ticks: [
      { scale: 'x', values: myrTicks, len: 7, sides: ['bottom', 'top'] },
      { scale: 'x', values: myrMinor, len: 4, sides: ['bottom', 'top'] },
      { scale: 'y', values: abundanceTicks, len: 7, sides: ['left'] }
    ]
  };
  new Chart(document.getElementById('bl'), { type: 'line', data: { datasets: ds }, options: o, plugins: [framePlugin] });
})();

// ---------------------------------------------------------------
// Bottom-right: CH3OH during warm-up
// ---------------------------------------------------------------
(() => {
  const ds = [];
  for (let i = radii.length - 1; i >= 0; i--) ds.push(line(fromLogXY(gasWarmup[i]), gasColors[i], 'y'));
  for (let i = radii.length - 1; i >= 0; i--) ds.push(line(fromLogXY(iceWarmup[i]), iceColors[i], 'y'));
  const o = base();
  o.layout = { padding: { top: 46, right: 3, left: 0, bottom: 0 } };
  o.scales = {
    x: { type: 'logarithmic', min: 1e-6, max: 4.31e6, afterFit: fixH(59), afterBuildTicks: setTicks(yrTicks),
         ticks: { callback: v => decadeLabel(v), padding: 5, maxRotation: 0, autoSkip: false },
         grid: { color: GRID, drawTicks: false }, border: hiddenAxis },
    y: { type: 'logarithmic', position: 'left', min: 1e-18, max: 1e-1, afterFit: fixW(38),
         afterBuildTicks: setTicks(abundanceTicks), ticks: { display: false },
         grid: { color: GRID, drawTicks: false }, border: hiddenAxis }
  };
  o.plugins.frame = {
    dashed: ['left'],
    ticks: [{ scale: 'x', values: yrTicks, len: 7, sides: ['bottom', 'top'] }]
  };
  new Chart(document.getElementById('br'), { type: 'line', data: { datasets: ds }, options: o, plugins: [framePlugin] });
})();

// ---------------------------------------------------------------
// Colour bar: one stacked cell per shell, gas column and ice column
// ---------------------------------------------------------------
(() => {
  const ds = radii.map((r, i) => ({
    label: String(r), data: [1, 1], backgroundColor: [gasColors[i], iceColors[i]],
    borderWidth: 0, barPercentage: 1, categoryPercentage: 1
  }));
  const centers = radii.map((r, i) => i + 0.5);
  const minors = [];
  for (let k = 0; k <= 44; k++) if (k % 4 !== 2) minors.push(k / 4);
  const o = base();
  o.layout = { padding: { top: 0, right: 0, left: 15, bottom: 58 } };
  o.scales = {
    x: { type: 'category', position: 'top', stacked: true, afterFit: fixH(33),
         ticks: { font: { size: 12 }, padding: 4, maxRotation: 0, minRotation: 0, autoSkip: false },
         grid: { display: true, offset: false, color: 'rgba(205,205,205,0.35)', drawTicks: false },
         border: hiddenAxis, z: 1 },
    y: { type: 'linear', position: 'right', stacked: true, min: 0, max: radii.length, afterFit: fixW(86),
         afterBuildTicks: setTicks(centers),
         ticks: { callback: (v, i) => String(radii[i]), font: { size: 12 }, padding: 8, autoSkip: false },
         grid: { color: 'rgba(205,205,205,0.35)', drawTicks: false }, border: hiddenAxis, z: 1 }
  };
  o.plugins.frame = {
    divider: true,
    ticks: [
      { scale: 'y', values: centers, len: 6, sides: ['right'] },
      { scale: 'y', values: minors, len: 3, sides: ['right'] }
    ]
  };
  new Chart(document.getElementById('cb'), { type: 'bar', data: { labels: ['gas', 'ice'], datasets: ds }, options: o, plugins: [framePlugin] });
})();
</script>
</body>
</html>
